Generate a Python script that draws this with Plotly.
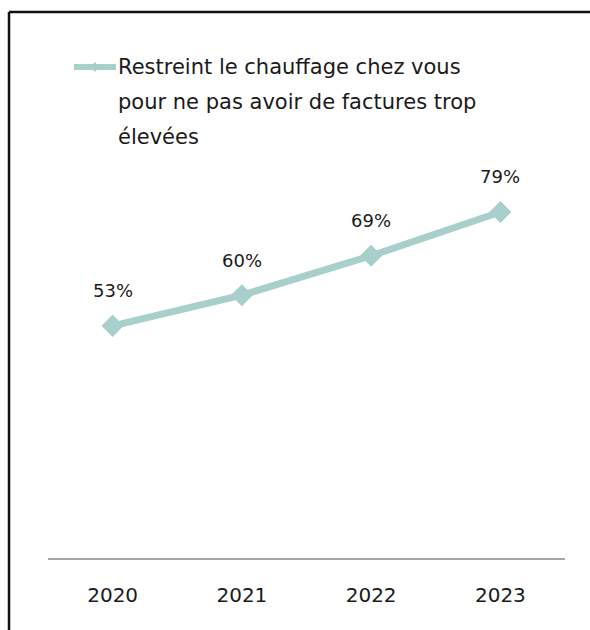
import plotly.graph_objects as go

years = ["2020", "2021", "2022", "2023"]
values = [53, 60, 69, 79]
labels = ["53%", "60%", "69%", "79%"]
series_name = "Restreint le chauffage chez vous<br>pour ne pas avoir de factures trop<br>élevées"
legend_lines = ["Restreint le chauffage chez vous", "pour ne pas avoir de factures trop", "élevées"]

COLOR = "#a8cfcc"
FONT = "DejaVu Sans"

W, H = 590, 630
L, R, T, B = 48, 25, 120, 72
pw, ph = W - L - R, H - T - B

def px_x(x):
    return (x - L) / pw

def px_y(y):
    return (H - B - y) / ph

fig = go.Figure()
fig.add_trace(go.Scatter(
    x=years, y=values, mode="lines+markers",
    line=dict(color=COLOR, width=7),
    marker=dict(symbol="diamond", size=17, color=COLOR),
    name=series_name, showlegend=False, cliponaxis=False,
))
for i, (yv, t) in enumerate(zip(values, labels)):
    fig.add_annotation(x=i, y=yv, xref="x", yref="y", text=t, showarrow=False, yshift=35,
                       xanchor="center", yanchor="middle",
                       font=dict(family=FONT, size=18, color="#1a1a1a"))

# legend swatch
fig.add_shape(type="line", xref="paper", yref="paper",
              x0=px_x(74), x1=px_x(116), y0=px_y(67), y1=px_y(67),
              line=dict(color=COLOR, width=6))
fig.add_shape(type="path", xref="paper", yref="paper",
              path=f"M {px_x(91)},{px_y(67)} L {px_x(95)},{px_y(62)} L {px_x(99)},{px_y(67)} L {px_x(95)},{px_y(72)} Z",
              fillcolor=COLOR, line=dict(width=0))
for i, t in enumerate(legend_lines):
    fig.add_annotation(xref="paper", yref="paper", x=px_x(116), y=px_y(67 + 35 * i),
                       text=t, showarrow=False, xanchor="left", yanchor="middle",
                       font=dict(family=FONT, size=21, color="#1a1a1a"))

# frame border (top and left)
fig.add_shape(type="line", xref="paper", yref="paper",
              x0=px_x(9), x1=px_x(592), y0=px_y(12), y1=px_y(12),
              line=dict(color="#111111", width=2.5))
fig.add_shape(type="line", xref="paper", yref="paper",
              x0=px_x(9), x1=px_x(9), y0=px_y(12), y1=px_y(632),
              line=dict(color="#111111", width=2.5))

fig.update_layout(
    width=W, height=H,
    margin=dict(l=L, r=R, t=T, b=B),
    paper_bgcolor="white", plot_bgcolor="white",
    xaxis=dict(type="category", range=[-0.5, 3.5], showgrid=False, zeroline=False,
               showline=True, linecolor="#a6a6a6", linewidth=2, ticks="",
               tickfont=dict(family=FONT, size=20, color="#1a1a1a"), ticklabelstandoff=18),
    yaxis=dict(range=[0, 100], visible=False, showgrid=False, zeroline=False),
)

fig.write_html("out.html")
